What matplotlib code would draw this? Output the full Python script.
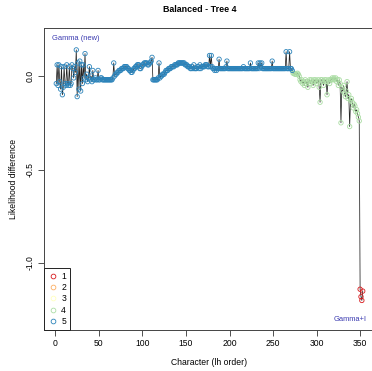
import matplotlib
matplotlib.use("Agg")
import matplotlib.pyplot as plt
from matplotlib.lines import Line2D

plt.rcParams['font.family'] = ['Liberation Sans', 'DejaVu Sans']

# likelihood difference per character, in lh order; class 5 (blue), 4 (green), 1 (red)
blue_y = [
    -0.04, 0.06, -0.05, 0.06, -0.03, -0.07, 0.05, -0.10, -0.06, 0.05,
    -0.04, -0.05, 0.06, -0.04, -0.05, 0.05, -0.05, -0.04, 0.06, 0.04,
    -0.01, 0.05, 0.02, 0.14, -0.11, 0.07, -0.07, 0.08, -0.08, 0.06,
    -0.04, 0.06, -0.01, 0.12, -0.02, 0.01, -0.03, -0.01, 0.05, -0.02,
    0.00, -0.03, 0.03, -0.02, -0.02, -0.01, -0.02, -0.02, 0.03, -0.02,
    -0.02, -0.01, -0.01, -0.02, -0.02, -0.02, -0.02, -0.02, -0.02, -0.02,
    -0.02, -0.02, -0.02, -0.02, -0.02, -0.01, 0.07, 0.00, 0.01, 0.01,
    0.02, 0.02, 0.03, 0.03, 0.03, 0.04, 0.04, 0.04, 0.05, 0.05,
    0.05, 0.05, 0.04, 0.04, 0.03, 0.03, 0.02, 0.02, 0.03, 0.04,
    0.04, 0.05, 0.05, 0.06, 0.06, 0.06, 0.04, 0.04, 0.05, 0.06,
    0.06, 0.07, 0.07, 0.07, 0.07, 0.06, 0.06, 0.07, 0.07, 0.08,
    0.10, -0.02, -0.02, -0.02, -0.02, -0.02, -0.02, -0.01, 0.07, -0.01,
    0.00, 0.00, 0.01, 0.01, 0.01, 0.02, 0.03, 0.03, 0.03, 0.04,
    0.04, 0.04, 0.05, 0.05, 0.05, 0.05, 0.06, 0.06, 0.06, 0.06,
    0.07, 0.07, 0.07, 0.07, 0.07, 0.07, 0.07, 0.07, 0.06, 0.06,
    0.06, 0.05, 0.05, 0.05, 0.04, 0.04, 0.05, 0.04, 0.06, 0.04,
    0.04, 0.04, 0.05, 0.05, 0.04, 0.06, 0.04, 0.05, 0.05, 0.05,
    0.05, 0.06, 0.06, 0.06, 0.05, 0.05, 0.11, 0.05, 0.11, 0.05,
    0.04, 0.04, 0.03, 0.04, 0.03, 0.04, 0.04, 0.09, 0.04, 0.04,
    0.04, 0.04, 0.04, 0.04, 0.04, 0.05, 0.08, 0.04, 0.04, 0.04,
    0.04, 0.04, 0.04, 0.04, 0.04, 0.04, 0.04, 0.04, 0.04, 0.04,
    0.04, 0.04, 0.04, 0.04, 0.04, 0.05, 0.04, 0.04, 0.04, 0.04,
    0.04, 0.04, 0.04, 0.07, 0.04, 0.04, 0.04, 0.04, 0.04, 0.04,
    0.04, 0.04, 0.07, 0.04, 0.07, 0.05, 0.07, 0.04, 0.04, 0.04,
    0.04, 0.04, 0.04, 0.04, 0.04, 0.04, 0.04, 0.04, 0.08, 0.04,
    0.04, 0.04, 0.04, 0.04, 0.04, 0.04, 0.04, 0.04, 0.04, 0.04,
    0.04, 0.04, 0.04, 0.04, 0.13, 0.04, 0.04, 0.04, 0.13, 0.04,
    0.04, 0.03,
]
green_y = [
    0.015, 0.015, 0.01, 0.01, 0.01, 0.015, 0.01, 0.00,
    -0.02, -0.03, -0.02, -0.04, -0.03, -0.05, -0.02, -0.04, -0.03, -0.06,
    -0.03, -0.02, -0.04, -0.02, -0.03, -0.05, -0.02, -0.03, -0.02, -0.04,
    -0.03, -0.02, -0.06, -0.14, -0.02, -0.02, -0.03, -0.05, -0.02, -0.03,
    -0.02, -0.10, -0.03, -0.02, -0.04, -0.02, -0.02, -0.01, -0.02, -0.01,
    -0.02, -0.01, -0.03, -0.02, -0.05, -0.02, -0.04, -0.25, -0.06, -0.08,
    -0.05, -0.09, -0.11, -0.08, -0.03, -0.12, -0.10, -0.27, -0.13, -0.12,
    -0.14, -0.17, -0.15, -0.16, -0.19, -0.18, -0.20, -0.22, -0.24,
]
red_y = [-1.14, -1.18, -1.20, -1.15]

classes = ["1", "2", "3", "4", "5"]
class_colors = ["#D7191C", "#FDAE61", "#FFFFBF", "#ABDDA4", "#2B83BA"]

y = blue_y + green_y + red_y
x = list(range(1, len(y) + 1))
cls = ["5"] * len(blue_y) + ["4"] * len(green_y) + ["1"] * len(red_y)

fig = plt.figure(figsize=(3.72, 3.71), dpi=100)
ax = fig.add_axes([44 / 372, 41 / 371, 331 / 372, 302 / 371])

ax.plot(x, y, color="#222222", lw=0.55, zorder=2)
for c, col in zip(classes, class_colors):
    xs = [xi for xi, ci in zip(x, cls) if ci == c]
    ys = [yi for yi, ci in zip(y, cls) if ci == c]
    if xs:
        ax.scatter(xs, ys, s=10, facecolors="none", edgecolors=col,
                   linewidths=0.6, zorder=3)

ax.set_xlim(-13.1, 367.1)
ax.set_ylim(-1.358, 0.257)
ax.set_xticks(range(0, 351, 50))
ax.set_yticks([-1.0, -0.5, 0.0])
ax.set_yticklabels(["-1.0", "-0.5", "0.0"], rotation=90, va="center")
ax.tick_params(direction="out", length=4, width=0.6, labelsize=6.2,
               color="#333333", pad=2.5)
for s in ax.spines.values():
    s.set_linewidth(0.7)
    s.set_color("#444444")

ax.set_xlabel("Character (lh order)", fontsize=6.2, labelpad=7)
ax.set_ylabel("Likelihood difference", fontsize=6.2, labelpad=6)
fig.text(200 / 372, 1 - 9 / 371, "Balanced - Tree 4", ha="center", va="center",
         fontsize=6.4, fontweight="bold")

ax.text(0.024, 0.964, "Gamma (new)", transform=ax.transAxes, fontsize=5.4,
        color="#3a3ab0", ha="left", va="center")
ax.text(0.976, 0.036, "Gamma+I", transform=ax.transAxes, fontsize=5.4,
        color="#3a3ab0", ha="right", va="center")

handles = [Line2D([], [], ls="none", marker="o", markersize=3.4,
                  markerfacecolor="none", markeredgecolor=col, markeredgewidth=0.6)
           for col in class_colors]
leg = ax.legend(handles, classes, loc="lower left", fontsize=6.2,
                borderaxespad=0, fancybox=False, handlelength=1.0,
                handletextpad=0.5, labelspacing=0.25, borderpad=0.5,
                framealpha=1)
leg.get_frame().set_edgecolor("#222222")
leg.get_frame().set_linewidth(0.7)

fig.savefig("out.png", dpi=100)
